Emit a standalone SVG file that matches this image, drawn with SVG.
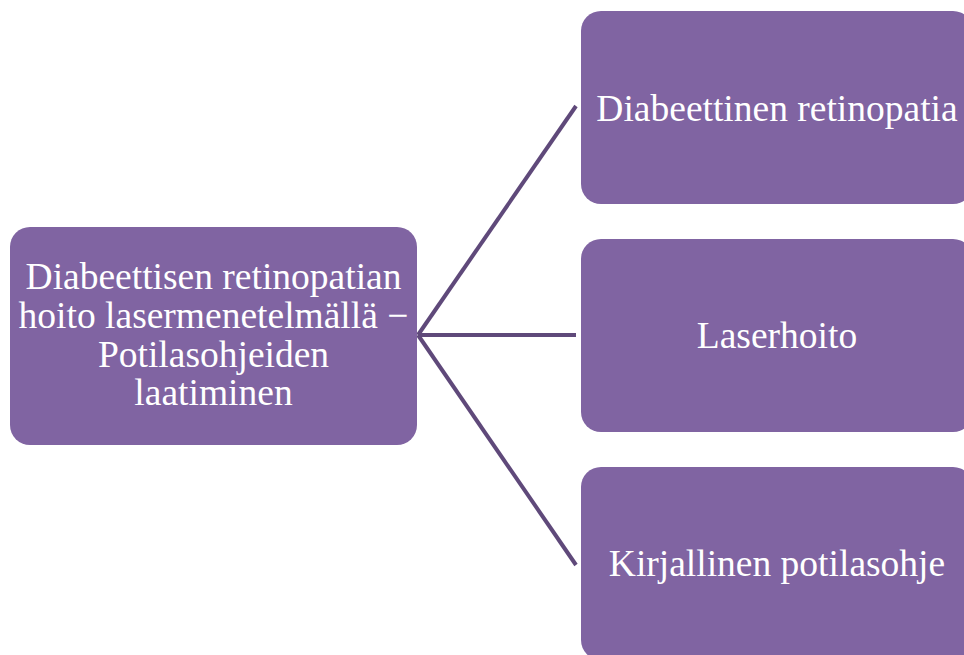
<svg xmlns="http://www.w3.org/2000/svg" width="964" height="655" viewBox="0 0 964 655">
<style>
.box{fill:#8064a2;}
.t{font-family:"Liberation Serif","Times New Roman",serif;font-size:37.5px;fill:#ffffff;text-anchor:middle;}
.c{stroke:#5f497a;stroke-width:4;fill:none;}
</style>
<rect width="964" height="655" fill="#ffffff"/>
<g id="connectors">
<line class="c" x1="418" y1="335" x2="576" y2="106"/>
<line class="c" x1="418" y1="335" x2="576" y2="335"/>
<line class="c" x1="418" y1="335" x2="576" y2="565"/>
</g>
<g id="root">
<rect class="box" x="10" y="227" width="407" height="218" rx="20"/>
<text class="t" x="213.5" y="289">Diabeettisen retinopatian</text>
<text class="t" x="213.5" y="328">hoito lasermenetelmällä −</text>
<text class="t" x="213.5" y="367">Potilasohjeiden</text>
<text class="t" x="213.5" y="405">laatiminen</text>
</g>
<g id="node1">
<rect class="box" x="581" y="11" width="392" height="193" rx="20"/>
<text class="t" x="777" y="121">Diabeettinen retinopatia</text>
</g>
<g id="node2">
<rect class="box" x="581" y="239" width="392" height="193" rx="20"/>
<text class="t" x="777" y="347.5">Laserhoito</text>
</g>
<g id="node3">
<rect class="box" x="581" y="467" width="392" height="193" rx="20"/>
<text class="t" x="777" y="576">Kirjallinen potilasohje</text>
</g>
</svg>
